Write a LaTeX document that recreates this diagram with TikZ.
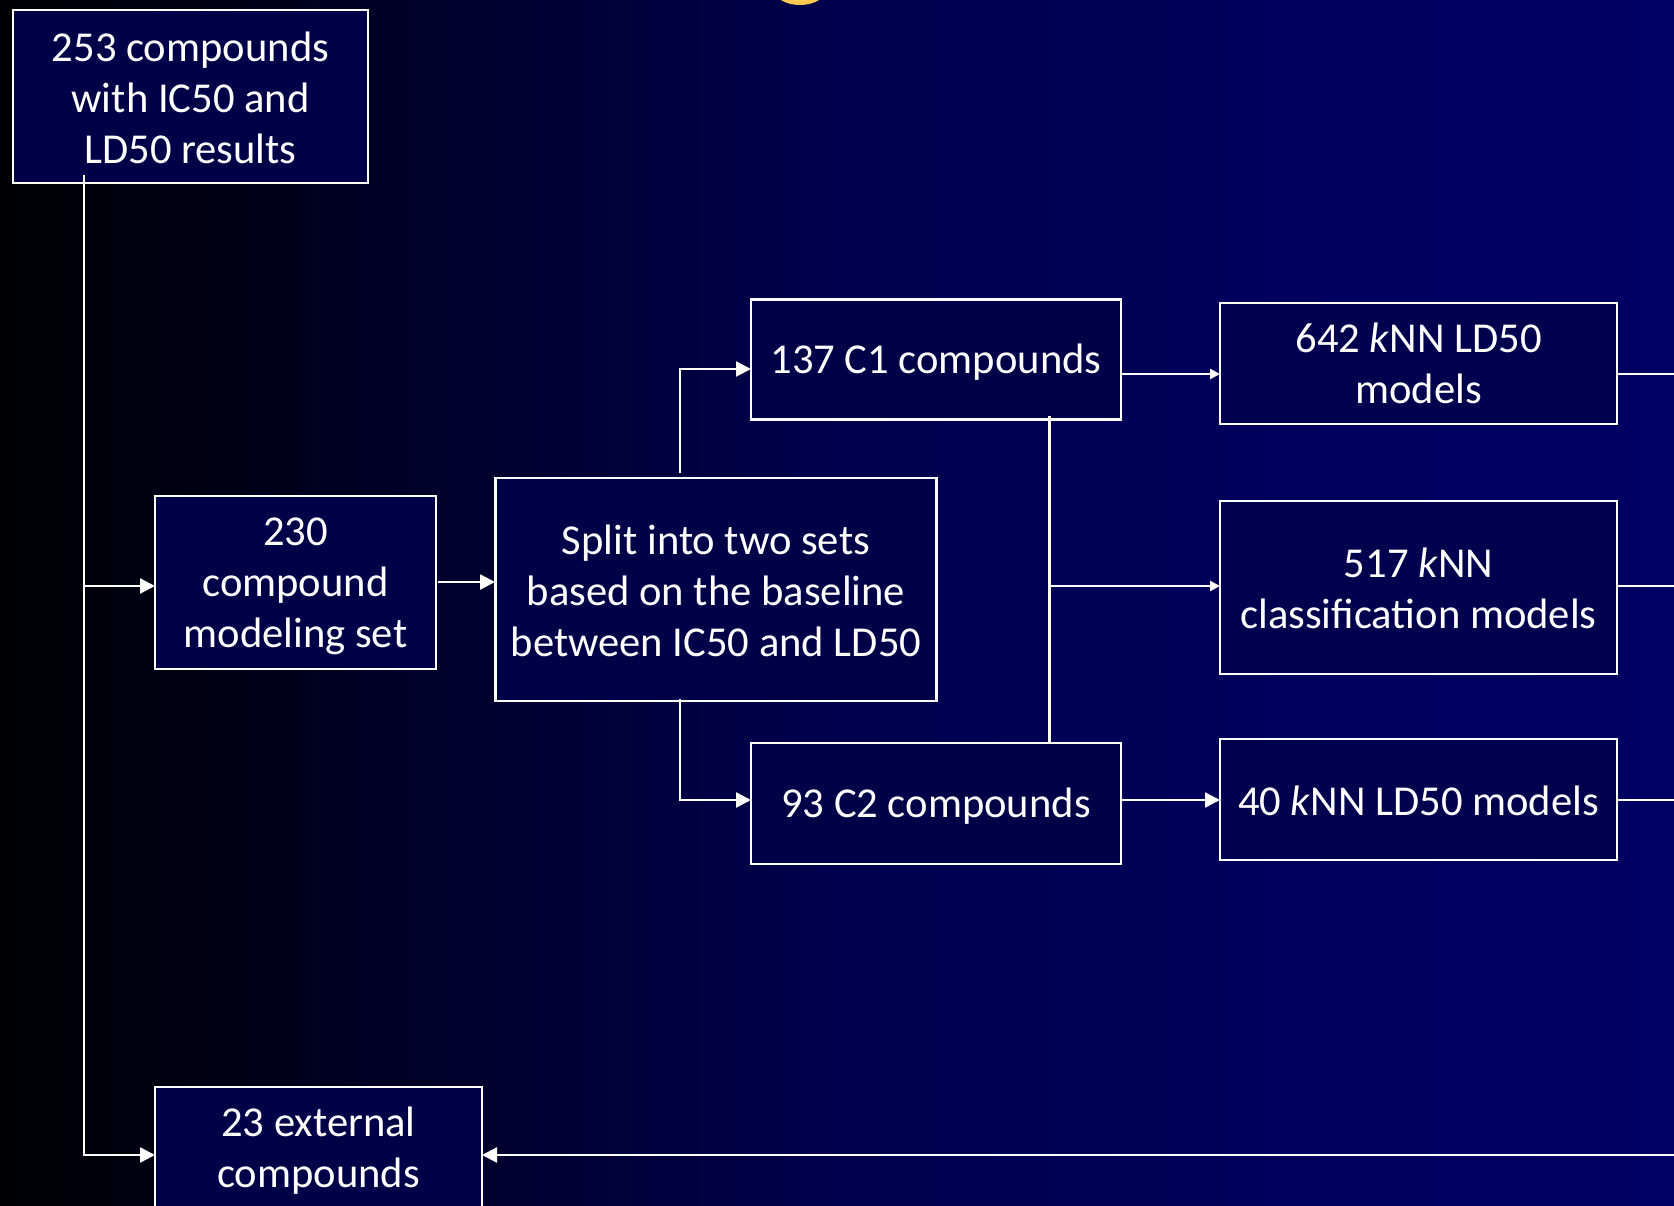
\documentclass[tikz,border=0pt]{standalone}
\usepackage{fontspec}
\setmainfont{Carlito}
\usetikzlibrary{arrows.meta}
\definecolor{sunc}{HTML}{FFC850}
\definecolor{bg0}{HTML}{000004}
\definecolor{bg1}{HTML}{000018}
\definecolor{bg2}{HTML}{000030}
\definecolor{bg3}{HTML}{00004E}
\definecolor{bg4}{HTML}{00005C}
\definecolor{bg5}{HTML}{000064}
\definecolor{boxfill}{HTML}{000048}
\definecolor{boxfillr}{HTML}{00004E}
\pgfdeclarehorizontalshading{bgshade}{100bp}{color(0bp)=(bg0); color(25bp)=(bg0); color(32bp)=(bg1); color(40bp)=(bg2); color(50bp)=(bg3); color(62bp)=(bg4); color(75bp)=(bg5); color(100bp)=(bg5)}
\tikzset{
  bx/.style={draw=white, line width=2.2pt, fill=boxfill, inner sep=0pt},
  bxr/.style={bx, fill=boxfillr},
  tx/.style={align=center, text=white, inner sep=0pt, font=\fontsize{42.6}{51}\selectfont},
  ln/.style={draw=white, line width=2.4pt},
  arr/.style={ln, -{Triangle[length=15pt,width=15pt]}},
  arrs/.style={ln, -{Triangle[length=10pt,width=10pt]}}
}
\begin{document}
\begin{tikzpicture}[x=1pt,y=-1pt]
\useasboundingbox (0,0) rectangle (1674,1206);
\clip (0,0) rectangle (1674,1206);
\shade[shading=bgshade] (0,0) rectangle (1674,1206);
\fill[sunc] (800,-12) ellipse (27 and 17);
\node[bx,minimum width=355pt,minimum height=173pt,label={[tx,yshift=-1pt]center:{253 compounds\\with IC50 and\\LD50 results}}] (A) at (190.5,96.5) {};
\node[bx,minimum width=281pt,minimum height=173pt,label={[tx,yshift=-4pt]center:{230\\compound\\modeling set}}] (B) at (295.5,582.5) {};
\node[bx,minimum width=441pt,minimum height=223pt,label={[tx,yshift=-1pt]center:{Split into two sets\\based on the baseline\\between IC50 and LD50}}] (C) at (716,589.5) {};
\node[bx,minimum width=370pt,minimum height=120pt,label={[tx,yshift=-3pt]center:{137 C1 compounds}}] (D) at (936,359.5) {};
\node[bx,minimum width=370pt,minimum height=121pt,label={[tx,yshift=-3pt]center:{93 C2 compounds}}] (E) at (936,803.5) {};
\node[bxr,minimum width=397pt,minimum height=121pt,label={[tx]center:{642 \textit{k}NN LD50\\models}}] (F) at (1418.5,363.5) {};
\node[bxr,minimum width=397pt,minimum height=173pt,label={[tx,yshift=-1pt]center:{517 \textit{k}NN\\classification models}}] (G) at (1418.5,587.5) {};
\node[bxr,minimum width=397pt,minimum height=121pt,label={[tx,yshift=-1pt]center:{40 \textit{k}NN LD50 models}}] (H) at (1418.5,799.5) {};
\node[bx,minimum width=327pt,minimum height=123pt,label={[tx,yshift=-2pt]center:{23 external\\compounds}}] (X) at (318.5,1148.5) {};
% anchors
\coordinate (ttop) at (84,175);
\coordinate (Bin) at (155,586);
\coordinate (Xin) at (155,1155);
\coordinate (Xout) at (482,1155);
\coordinate (Bout) at (438,582);
\coordinate (Cin) at (495,582);
\coordinate (Cup) at (680,473);
\coordinate (Dl) at (751,369);
\coordinate (Cdn) at (680,699);
\coordinate (El) at (751,800);
\coordinate (Dr) at (1121,374);
\coordinate (Fl) at (1220,374);
\coordinate (vtop) at (1049.5,416);
\coordinate (vbot) at (1049.5,743);
\coordinate (Gl) at (1220,586);
\coordinate (Er) at (1121,800);
\coordinate (Hl) at (1220,800);
\coordinate (Fr) at (1617,374);
\coordinate (Gr) at (1617,586);
\coordinate (Hr) at (1617,800);
\coordinate (eF) at (1674,374);
\coordinate (eG) at (1674,586);
\coordinate (eH) at (1674,800);
\coordinate (eX) at (1674,1155);
% connectors
\draw[arr] (ttop) |- (Xin);
\draw[arr] (ttop |- Bin) -- (Bin);
\draw[arr] (Bout) -- (Cin);
\draw[arr] (Cup) |- (Dl);
\draw[arr] (Cdn) |- (El);
\draw[arrs] (Dr) -- (Fl);
\draw[ln] (vtop) -- (vbot);
\draw[arrs] (vtop |- Gl) -- (Gl);
\draw[arr] (Er) -- (Hl);
\draw[ln] (Fr) -- (eF);
\draw[ln] (Gr) -- (eG);
\draw[ln] (Hr) -- (eH);
\draw[arr] (eX) -- (Xout);
\end{tikzpicture}
\end{document}
